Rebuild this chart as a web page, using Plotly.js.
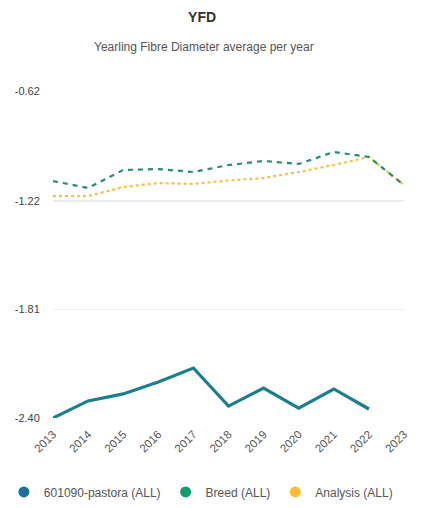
<!DOCTYPE html>
<html>
<head>
<meta charset="utf-8">
<script src="https://cdn.plot.ly/plotly-3.0.1.min.js"></script>
<style>html,body{margin:0;padding:0;background:#fff;}#chart{width:421px;height:508px;}</style>
</head>
<body>
<div id="chart"></div>
<script>
const years = [2013, 2014, 2015, 2016, 2017, 2018, 2019, 2020, 2021, 2022, 2023];
const pastora = [-2.40, -2.307, -2.269, -2.204, -2.128, -2.335, -2.237, -2.346, -2.242, -2.351, null];
const breed = [-1.11, -1.148, -1.05, -1.045, -1.061, -1.023, -1.001, -1.017, -0.952, -0.979, -1.132];
const analysis = [-1.192, -1.192, -1.143, -1.121, -1.126, -1.107, -1.094, -1.061, -1.023, -0.979, -1.132];
const yTickVals = [-0.62, -1.22, -1.81, -2.40];
const yTickText = ['-0.62', '-1.22', '-1.81', '-2.40'];
const seriesNames = ['601090-pastora (ALL)', 'Breed (ALL)', 'Analysis (ALL)'];

const cPastora = '#1b7d8e', cPastoraLeg = '#1f6f9c';
const cBreed = '#2a8a78', cBreedLeg = '#129b6b';
const cAnalysis = '#f6c04a', cAnalysisLeg = '#fbbd35';

const traces = [
  {x: years, y: analysis, mode: 'lines', line: {color: cAnalysis, width: 2.2, dash: 'dot'}, showlegend: false, hoverinfo: 'skip'},
  {x: years, y: breed, mode: 'lines', line: {color: cBreed, width: 2.2, dash: '5px,5px'}, showlegend: false, hoverinfo: 'skip'},
  {x: years, y: pastora, mode: 'lines', line: {color: cPastora, width: 3.2}, showlegend: false, hoverinfo: 'skip'},
  {x: [null], y: [null], mode: 'markers', name: seriesNames[0], marker: {color: cPastoraLeg, size: 11}},
  {x: [null], y: [null], mode: 'markers', name: seriesNames[1], marker: {color: cBreedLeg, size: 11}},
  {x: [null], y: [null], mode: 'markers', name: seriesNames[2], marker: {color: cAnalysisLeg, size: 11}}
];

const layout = {
  width: 421, height: 508,
  margin: {l: 53, r: 17, t: 91, b: 90, autoexpand: false},
  paper_bgcolor: '#fff', plot_bgcolor: '#fff',
  font: {family: 'Liberation Sans, Arial, sans-serif', color: '#555', size: 11},
  title: {text: '<b>YFD</b>', x: 0.48, xanchor: 'center', y: 0.966, yanchor: 'middle', font: {size: 14, color: '#333'}},
  annotations: [{text: 'Yearling Fibre Diameter average per year', xref: 'paper', yref: 'paper', x: 0.43, y: 1, yshift: 44, xanchor: 'center', yanchor: 'middle', showarrow: false, font: {size: 12, color: '#555'}}],
  xaxis: {
    type: 'linear', range: [2013, 2023], tickvals: years, ticktext: years.map(String),
    tickangle: -45, showgrid: false, zeroline: false, showline: false,
    ticks: 'outside', ticklen: 4, tickcolor: 'rgba(0,0,0,0)',
    tickfont: {size: 11.5, color: '#555'}
  },
  yaxis: {
    range: [-2.40, -0.62], tickvals: yTickVals, ticktext: yTickText,
    showgrid: true, gridcolor: '#ececec', gridwidth: 1.5, zeroline: false, showline: false,
    ticks: 'outside', ticklen: 10, tickcolor: 'rgba(0,0,0,0)',
    tickfont: {size: 11, color: '#444'}
  },
  legend: {orientation: 'h', x: -0.14, xanchor: 'left', y: -0.226, yanchor: 'middle', font: {size: 12, color: '#555'}, itemwidth: 30, tracegroupgap: 0},
  showlegend: true
};

Plotly.newPlot('chart', traces, layout, {displayModeBar: false, staticPlot: true});
</script>
</body>
</html>
